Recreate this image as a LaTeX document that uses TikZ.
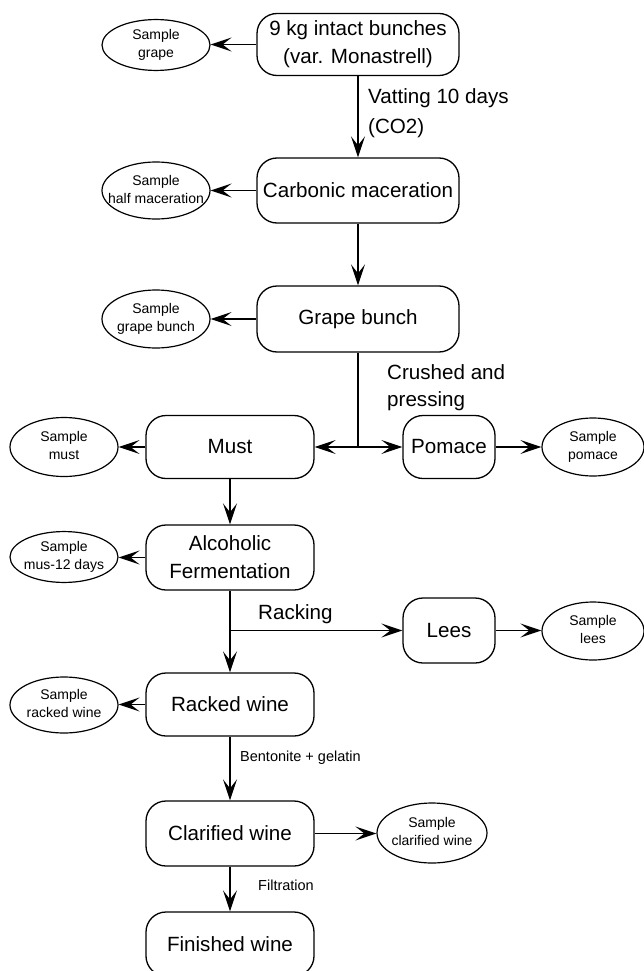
\documentclass[tikz,border=0pt]{standalone}
\usepackage{fontspec}
\setmainfont{Liberation Sans}
\usetikzlibrary{shapes.geometric,arrows.meta}
\newcommand{\twoline}[2]{\makebox[0pt][c]{\begin{tabular}{@{}c@{}}#1\\#2\end{tabular}}}
\begin{document}
\begin{tikzpicture}[x=1pt,y=-1pt,
 proc/.style={draw, rounded corners=20pt, line width=1.3pt, align=center,
   font=\fontsize{20.6}{28}\selectfont, inner sep=0pt},
 samp/.style={draw, ellipse, line width=1.2pt, inner sep=0pt,
   font=\fontsize{14}{18}\selectfont},
 arr/.style={-{Stealth[length=21pt,width=14pt,inset=9pt]}, line width=1.5pt},
 ln/.style={line width=1.5pt},
 lab/.style={font=\fontsize{20.6}{28}\selectfont, align=left, inner sep=0pt},
 slab/.style={font=\fontsize{14.5}{18}\selectfont, inner sep=0pt}]
\useasboundingbox (0,0) rectangle (643,971);

% process boxes
\node[proc, minimum width=202pt, minimum height=62pt] (b1) at (358,44.5) {9 kg intact bunches\\(var. Monastrell)};
\node[proc, minimum width=202pt, minimum height=65pt] (b2) at (358,190.5) {Carbonic maceration};
\node[proc, minimum width=202pt, minimum height=66pt] (b3) at (358,319) {Grape bunch};
\node[proc, minimum width=168pt, minimum height=63pt] (must) at (230,447) {Must};
\node[proc, minimum width=92pt, minimum height=63pt] (pom) at (449,447) {Pomace};
\node[proc, minimum width=168pt, minimum height=65pt] (alc) at (230,557.5) {Alcoholic\\Fermentation};
\node[proc, minimum width=92pt, minimum height=65pt] (lees) at (449,630.5) {Lees};
\node[proc, minimum width=168pt, minimum height=63pt] (rw) at (230,704.5) {Racked wine};
\node[proc, minimum width=168pt, minimum height=65pt] (cw) at (230,833.5) {Clarified wine};
\node[proc, minimum width=168pt, minimum height=64pt] (fw) at (230,944) {Finished wine};

% sample ellipses
\node[samp, minimum width=108pt, minimum height=50pt] (s1) at (156,45) {\twoline{Sample}{grape}};
\node[samp, minimum width=108pt, minimum height=57pt] (s2) at (156,190.5) {\twoline{Sample}{half maceration}};
\node[samp, minimum width=108pt, minimum height=58pt] (s3) at (156,319) {\twoline{Sample}{grape bunch}};
\node[samp, minimum width=108pt, minimum height=59pt] (s4) at (64,447) {\twoline{Sample}{must}};
\node[samp, minimum width=102pt, minimum height=58pt] (s5) at (593,447) {\twoline{Sample}{pomace}};
\node[samp, minimum width=108pt, minimum height=50pt] (s6) at (64,557) {\twoline{Sample}{mus-12 days}};
\node[samp, minimum width=102pt, minimum height=58pt] (s7) at (593,631) {\twoline{Sample}{lees}};
\node[samp, minimum width=108pt, minimum height=56pt] (s8) at (64,705) {\twoline{Sample}{racked wine}};
\node[samp, minimum width=110pt, minimum height=60pt] (s9) at (432,833) {\twoline{Sample}{clarified wine}};

% junctions
\coordinate (j1) at (b3.south |- must.east);
\coordinate (j2) at (alc.south |- lees.west);

% main flow
\draw[arr] (b1) -- (b2);
\draw[arr] (b2) -- (b3);
\draw[ln] (b3.south) -- (j1);
\draw[arr] (j1) -- (must.east);
\draw[arr] (j1) -- (pom.west);
\draw[arr] (must) -- (alc);
\draw[arr] (alc) -- (rw);
\draw[arr] (j2) -- (lees.west);
\draw[arr] (rw) -- (cw);
\draw[arr] (cw) -- (fw);

% sample arrows
\draw[arr] (b1.west) -- (b1.west -| s1.east);
\draw[arr] (b2.west) -- (b2.west -| s2.east);
\draw[arr] (b3.west) -- (b3.west -| s3.east);
\draw[arr] (must.west) -- (must.west -| s4.east);
\draw[arr] (pom.east) -- (pom.east -| s5.west);
\draw[arr] (alc.west) -- (alc.west -| s6.east);
\draw[arr] (lees.east) -- (lees.east -| s7.west);
\draw[arr] (rw.west) -- (rw.west -| s8.east);
\draw[arr] (cw.east) -- (cw.east -| s9.west);

% labels
\node[lab, anchor=north west, font=\fontsize{20.6}{30}\selectfont] (l1) at (368,88) {Vatting 10 days\\(CO2)};
\node[lab, anchor=north west, font=\fontsize{20.6}{27}\selectfont] (l2) at (387,364) {Crushed and\\pressing};
\node[lab, anchor=base west] (l3) at (258,619) {Racking};
\node[slab, anchor=base west] (l4) at (240,761) {Bentonite + gelatin};
\node[slab, anchor=base west] (l5) at (258,890) {Filtration};
\end{tikzpicture}
\end{document}
